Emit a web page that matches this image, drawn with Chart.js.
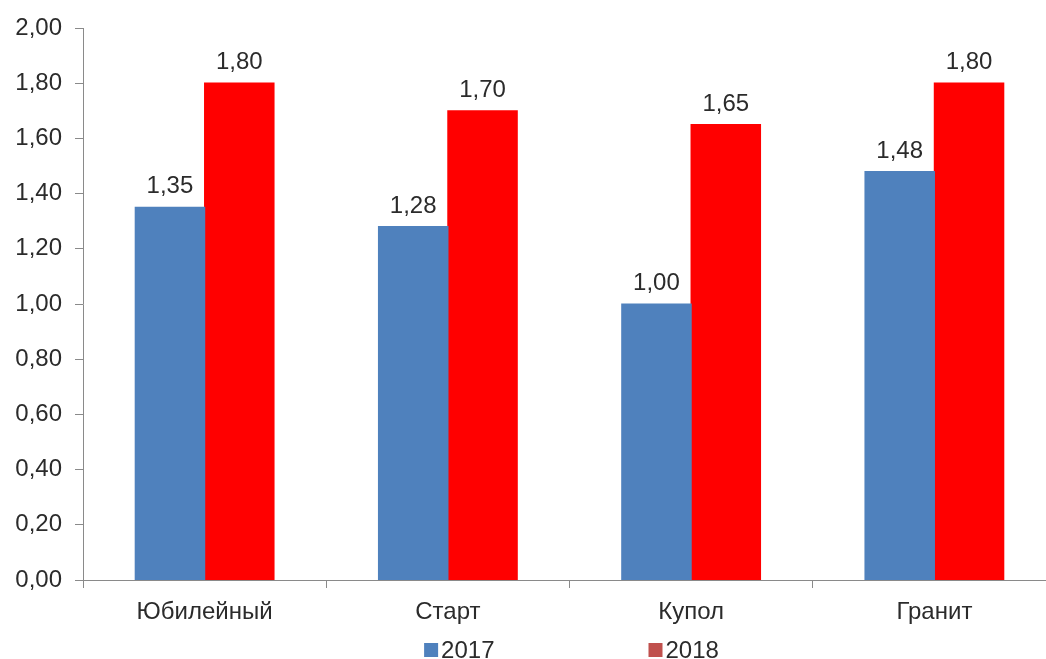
<!DOCTYPE html>
<html>
<head>
<meta charset="utf-8">
<script src="https://cdn.jsdelivr.net/npm/chart.js@4/dist/chart.umd.min.js"></script>
<style>
  html, body { margin: 0; padding: 0; background: #fff; overflow: hidden; }
  #wrap { width: 1060px; height: 659px; }
</style>
</head>
<body>
<div id="wrap"><canvas id="c" width="1060" height="659"></canvas></div>
<script>
// Categories and series
const categories = ['Юбилейный', 'Старт', 'Купол', 'Гранит'];
const seriesNames = ['2017', '2018'];
const values2017 = [1.35, 1.28, 1.00, 1.48];
const values2018 = [1.80, 1.70, 1.65, 1.80];

// Value axis range
const yMin = 0;
const yMax = 2;
const yStep = 0.2;

const barColors = ['#4F81BD', '#FF0000'];
const legendColors = ['#4F81BD', '#C0504D'];
const textColor = '#2b2b2b';
const axisColor = '#8a8a8a';
const fontFamily = '"Liberation Sans", Arial, sans-serif';

const fmt = v => v.toFixed(2).replace('.', ',');

// Value labels above each bar
const valueLabels = {
  id: 'valueLabels',
  afterDatasetsDraw(chart) {
    const ctx = chart.ctx;
    ctx.save();
    ctx.font = '24px ' + fontFamily;
    ctx.fillStyle = textColor;
    ctx.textAlign = 'center';
    ctx.textBaseline = 'alphabetic';
    chart.data.datasets.forEach((ds, i) => {
      chart.getDatasetMeta(i).data.forEach((bar, j) => {
        ctx.fillText(fmt(ds.data[j]), bar.x, bar.y - 14);
      });
    });
    ctx.restore();
  }
};

// Legend under the category axis
const bottomLegend = {
  id: 'bottomLegend',
  afterDraw(chart) {
    const ctx = chart.ctx;
    const area = chart.chartArea;
    ctx.save();
    ctx.font = '24px ' + fontFamily;
    const box = 14, gapText = 3, gapItems = 154;
    const widths = seriesNames.map(n => box + gapText + ctx.measureText(n).width);
    const total = widths.reduce((a, b) => a + b, 0) + gapItems * (widths.length - 1);
    let x = (area.left + area.right) / 2 + 2 - total / 2;
    const yMid = 650;
    seriesNames.forEach((n, i) => {
      ctx.fillStyle = legendColors[i];
      ctx.fillRect(x, yMid - box / 2, box, box);
      ctx.fillStyle = textColor;
      ctx.textAlign = 'left';
      ctx.textBaseline = 'middle';
      ctx.fillText(n, x + box + gapText, yMid + 1);
      x += widths[i] + gapItems;
    });
    ctx.restore();
  }
};

new Chart(document.getElementById('c'), {
  type: 'bar',
  data: {
    labels: categories,
    datasets: [
      { label: seriesNames[0], data: values2017, backgroundColor: barColors[0], borderWidth: 0, inflateAmount: 0.6 },
      { label: seriesNames[1], data: values2018, backgroundColor: barColors[1], borderWidth: 0, inflateAmount: 0.6 }
    ]
  },
  options: {
    responsive: false,
    animation: false,
    devicePixelRatio: 1,
    layout: { padding: { top: 28, right: 4, left: 0, bottom: 0 } },
    datasets: { bar: { categoryPercentage: 0.57, barPercentage: 1.0 } },
    plugins: {
      legend: { display: false },
      tooltip: { enabled: false }
    },
    scales: {
      x: {
        afterFit(s) { s.height = 79; },
        border: { display: true, color: axisColor, width: 1 },
        grid: { display: true, drawOnChartArea: false, drawTicks: true, tickLength: 8, color: axisColor, offset: true },
        ticks: { color: textColor, font: { family: fontFamily, size: 24 }, padding: 10, maxRotation: 0 }
      },
      y: {
        min: yMin,
        max: yMax,
        afterFit(s) { s.width = 83; },
        border: { display: true, color: axisColor, width: 1 },
        grid: { display: true, drawOnChartArea: false, drawTicks: true, tickLength: 8, color: axisColor },
        ticks: {
          stepSize: yStep,
          color: textColor,
          font: { family: fontFamily, size: 24 },
          padding: 13,
          callback: v => fmt(v)
        }
      }
    }
  },
  plugins: [valueLabels, bottomLegend]
});
</script>
</body>
</html>
